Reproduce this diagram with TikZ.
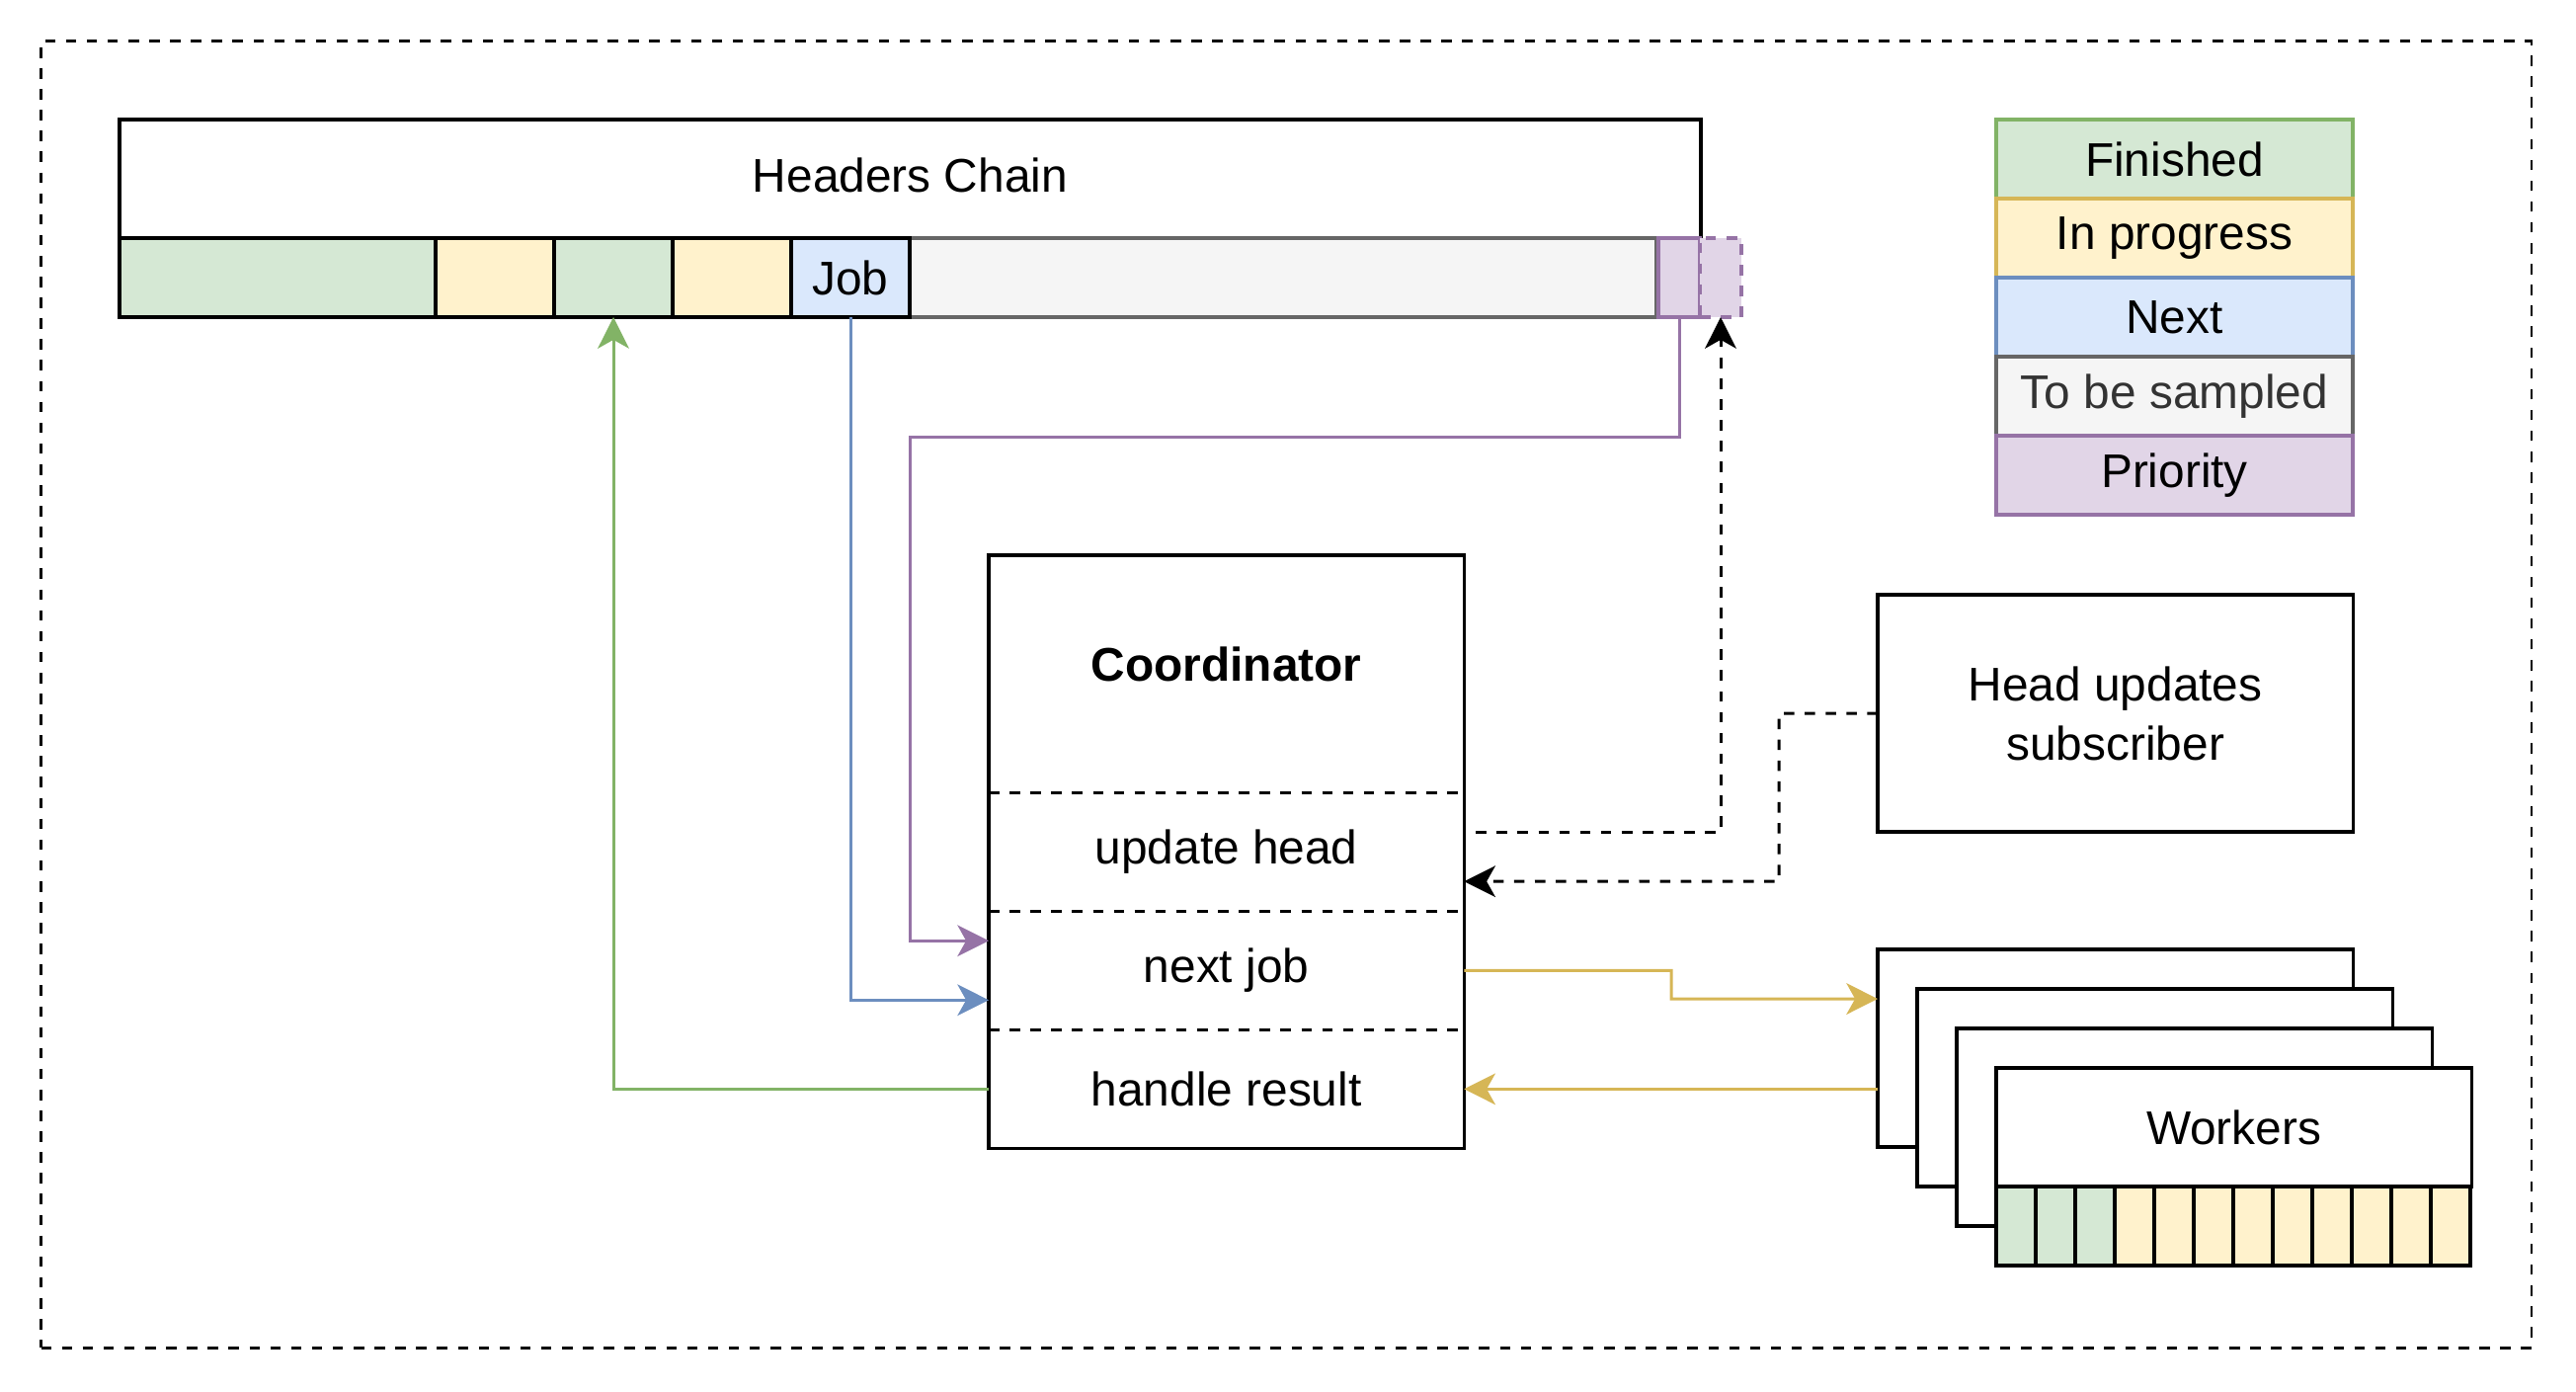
\documentclass[tikz,border=0pt]{standalone}
\usepackage{fontspec}
\setmainfont{Liberation Sans}
\usetikzlibrary{arrows.meta,positioning}
\definecolor{finFill}{HTML}{D5E8D4}
\definecolor{finLine}{HTML}{82B366}
\definecolor{progFill}{HTML}{FFF2CC}
\definecolor{progLine}{HTML}{D6B656}
\definecolor{nextFill}{HTML}{DAE8FC}
\definecolor{nextLine}{HTML}{6C8EBF}
\definecolor{sampFill}{HTML}{F5F5F5}
\definecolor{sampLine}{HTML}{666666}
\definecolor{sampText}{HTML}{333333}
\definecolor{prioFill}{HTML}{E1D5E7}
\definecolor{prioLine}{HTML}{9673A6}
\tikzset{
  every node/.style={font=\fontsize{13.6}{17}\selectfont, inner sep=0pt, outer sep=0pt},
  box/.style={draw, line width=1pt, fill=white, anchor=north west},
  cell/.style={draw, line width=1pt, anchor=north west, minimum height=0.8cm},
  legendbox/.style={draw, line width=1pt, minimum width=3.61cm, minimum height=0.8cm},
  part/.style={minimum width=4.81cm, minimum height=1.2cm},
  arr/.style={-{Stealth[length=9pt,width=9pt,inset=2.5pt]}},
  link/.style={arr, line width=0.85pt},
  dlink/.style={arr, line width=0.85pt, dashed}
}
\begin{document}
\begin{tikzpicture}[x=0.01cm,y=-0.01cm]
\useasboundingbox (0,0) rectangle (2608,1408);
\node[draw, dashed, line width=0.8pt, anchor=north west, minimum width=25.2cm, minimum height=13.22cm] (frame) at (41.5,41.5) {};

% headers chain
\node[box, minimum width=16cm, minimum height=1.2cm] (chain) at (121,121) {\raisebox{2pt}{Headers Chain}};
\node[cell, draw=sampLine, fill=sampFill, minimum width=7.55cm] (todo) at (921,241) {};
\node[cell, fill=finFill, minimum width=3.2cm] (done1) at (121,241) {};
\node[cell, fill=progFill, minimum width=1.2cm] (busy1) at (441,241) {};
\node[cell, fill=finFill, minimum width=1.2cm] (done2) at (561,241) {};
\node[cell, fill=progFill, minimum width=1.2cm] (busy2) at (681,241) {};
\node[cell, fill=nextFill, minimum width=1.2cm] (job) at (801,241) {Job};
\node[cell, draw=prioLine, fill=prioFill, minimum width=0.42cm] (prio) at (1679,241) {};
\node[cell, draw=prioLine, fill=prioFill, dashed, minimum width=0.42cm] (spec) at (1721,241) {};

% legend
\node[legendbox, draw=finLine, fill=finFill] (lfin) at (2201.5,161) {Finished};
\node[legendbox, draw=progLine, fill=progFill, below=0pt of lfin] (lprog) {In progress};
\node[legendbox, draw=nextLine, fill=nextFill, below=0pt of lprog] (lnext) {Next};
\node[legendbox, draw=sampLine, fill=sampFill, text=sampText, below=0pt of lnext] (lsamp) {To be sampled};
\node[legendbox, draw=prioLine, fill=prioFill, below=0pt of lsamp] (lprio) {Priority};

% coordinator
\node[box, minimum width=4.81cm, minimum height=6cm] (coord) at (1001,562) {};
\node[part, anchor=north west, minimum height=2.4cm] (title) at (1001,562) {};
\node at (1241.5,672) (ctext) {\bfseries Coordinator};
\node[part, below=0pt of title] (upd) {update head};
\node[part, below=0pt of upd] (next) {next job};
\node[part, below=0pt of next] (handle) {handle result};
\draw[dashed, line width=0.8pt] (upd.north west) -- (upd.north east);
\draw[dashed, line width=0.8pt] (next.north west) -- (next.north east);
\draw[dashed, line width=0.8pt] (handle.north west) -- (handle.north east);

% subscriber
\node[box, minimum width=4.81cm, minimum height=2.4cm, align=center] (sub) at (1901,602) {Head updates\\subscriber};

% workers
\node[box, minimum width=4.81cm, minimum height=2cm] (w1) at (1901,961) {};
\node[box, minimum width=4.81cm, minimum height=2cm] (w2) at (1941,1001) {};
\node[box, minimum width=4.81cm, minimum height=2cm] (w3) at (1981,1041) {};
\node[box, minimum width=4.81cm, minimum height=1.2cm] (wf) at (2021,1081) {Workers};
\foreach \i/\col in {0/finFill,1/finFill,2/finFill,3/progFill,4/progFill,5/progFill,6/progFill,7/progFill,8/progFill,9/progFill,10/progFill,11/progFill}
  \node[cell, fill=\col, minimum width=0.4cm] (wc\i) at (2021+40*\i,1201) {};

% connectors
\coordinate (pturn) at (921,442);
\coordinate (dturn) at (1801,892);
\coordinate (yturn) at (1692,1011);
\draw[link, finLine] (handle.west) -| (done2.south);
\draw[link, nextLine] (job.south) |- ([yshift=-0.3cm]next.west);
\draw[link, prioLine] (prio.south) |- (pturn) |- ([yshift=0.3cm]next.west);
\draw[dlink] ([xshift=0.12cm,yshift=0.2cm]upd.east) -| (spec.south);
\draw[dlink] (sub.west) -| (dturn) -- ([yshift=-0.3cm]upd.east);
\draw[link, progLine] (next.east) -| (yturn) -- ([yshift=0.5cm]w1.west);
\draw[link, progLine] (w1.west |- handle.east) -- (handle.east);
\end{tikzpicture}
\end{document}
